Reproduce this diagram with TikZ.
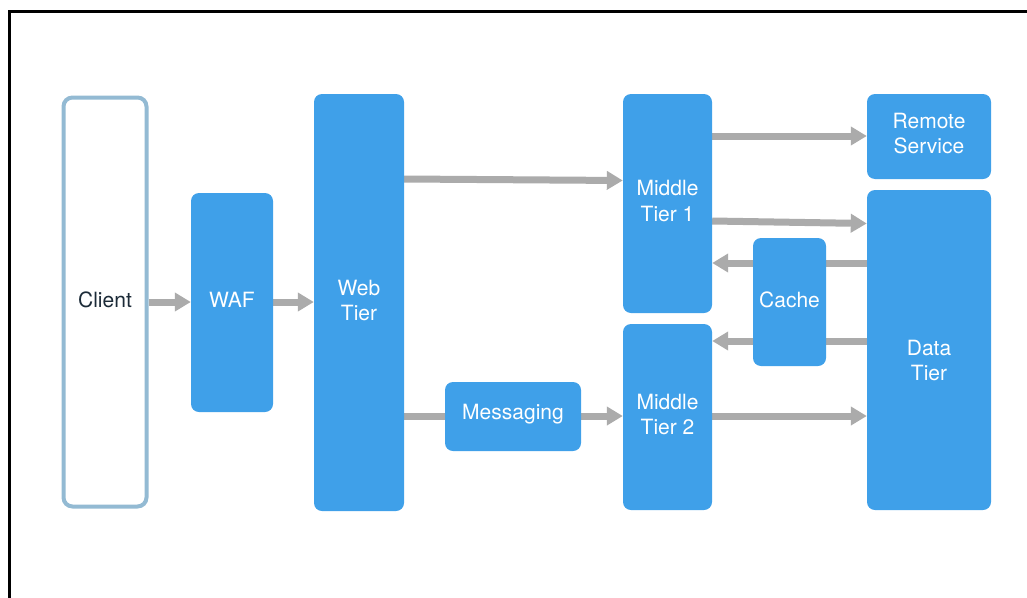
\documentclass[tikz,border=0pt]{standalone}
\usepackage{fontspec}
\setmainfont{TeX Gyre Heros}
\usetikzlibrary{arrows.meta,backgrounds}
\definecolor{boxblue}{HTML}{3FA0E9}
\definecolor{clientedge}{HTML}{93BAD3}
\definecolor{arrgray}{HTML}{ABABAB}
\definecolor{clienttext}{HTML}{1C2B38}
\tikzset{
  box/.style={fill=boxblue, draw=none, rounded corners=8pt, inner sep=0pt},
  lbl/.style={text=white, align=center, font=\fontsize{21}{25}\selectfont, inner sep=0pt, yshift=2.5pt},
  arr/.style={draw=arrgray, line width=7pt, -{Triangle[length=16pt,width=18pt]}},
  plainline/.style={draw=arrgray, line width=7pt},
}
\begin{document}
\begin{tikzpicture}[x=1pt,y=-1pt]
\useasboundingbox (0,0) rectangle (1027,597);
\draw[line width=3pt] (9.5,600) -- (9.5,11.5) -- (1030,11.5);
% nodes
\node[draw=clientedge, line width=4pt, rounded corners=9pt, fill=white,
  minimum width=83pt, minimum height=409pt, inner sep=0pt,
  label={[lbl,text=clienttext]center:Client}] (client) at (105,302) {};
\node[box, minimum width=82pt, minimum height=219pt, label={[lbl]center:WAF}] (waf) at (232,302.5) {};
\node[box, minimum width=90pt, minimum height=417pt, label={[lbl]center:Web\\Tier}] (web) at (359,302.5) {};
\node[box, minimum width=89pt, minimum height=219pt, label={[lbl]center:Middle\\Tier 1}] (m1) at (667.5,203.5) {};
\node[box, minimum width=89pt, minimum height=186pt, label={[lbl]center:Middle\\Tier 2}] (m2) at (667.5,417) {};
\node[box, minimum width=136pt, minimum height=69pt, label={[lbl]center:Messaging}] (msg) at (513,416.5) {};
\node[box, minimum width=73pt, minimum height=128pt, label={[lbl]center:Cache}] (cache) at (789.5,302) {};
\node[box, minimum width=124pt, minimum height=85pt, label={[lbl]center:Remote\\Service}] (remote) at (929,136.5) {};
\node[box, minimum width=124pt, minimum height=320pt, label={[lbl,yshift=-12.5pt]center:Data\\Tier}] (data) at (929,350) {};
% connectors
\begin{scope}[on background layer]
\draw[arr] (client.east |- 0,302) -- (waf.west |- 0,302);
\draw[arr] (waf.east |- 0,302) -- (web.west |- 0,302);
\draw[arr] (web.east |- 0,179) -- (m1.west |- 0,180.5);
\draw[plainline] (web.east |- 0,416) -- (msg.west |- 0,416);
\draw[arr] (msg.east |- 0,416) -- (m2.west |- 0,416);
\draw[arr] (m1.east |- 0,136) -- (remote.west |- 0,136);
\draw[arr] (m1.east |- 0,221) -- (data.west |- 0,223.5);
\draw[arr] (data.west |- 0,263) -- (m1.east |- 0,263);
\draw[arr] (data.west |- 0,341) -- (m2.east |- 0,341);
\draw[arr] (m2.east |- 0,416) -- (data.west |- 0,416);
\end{scope}
\end{tikzpicture}
\end{document}
